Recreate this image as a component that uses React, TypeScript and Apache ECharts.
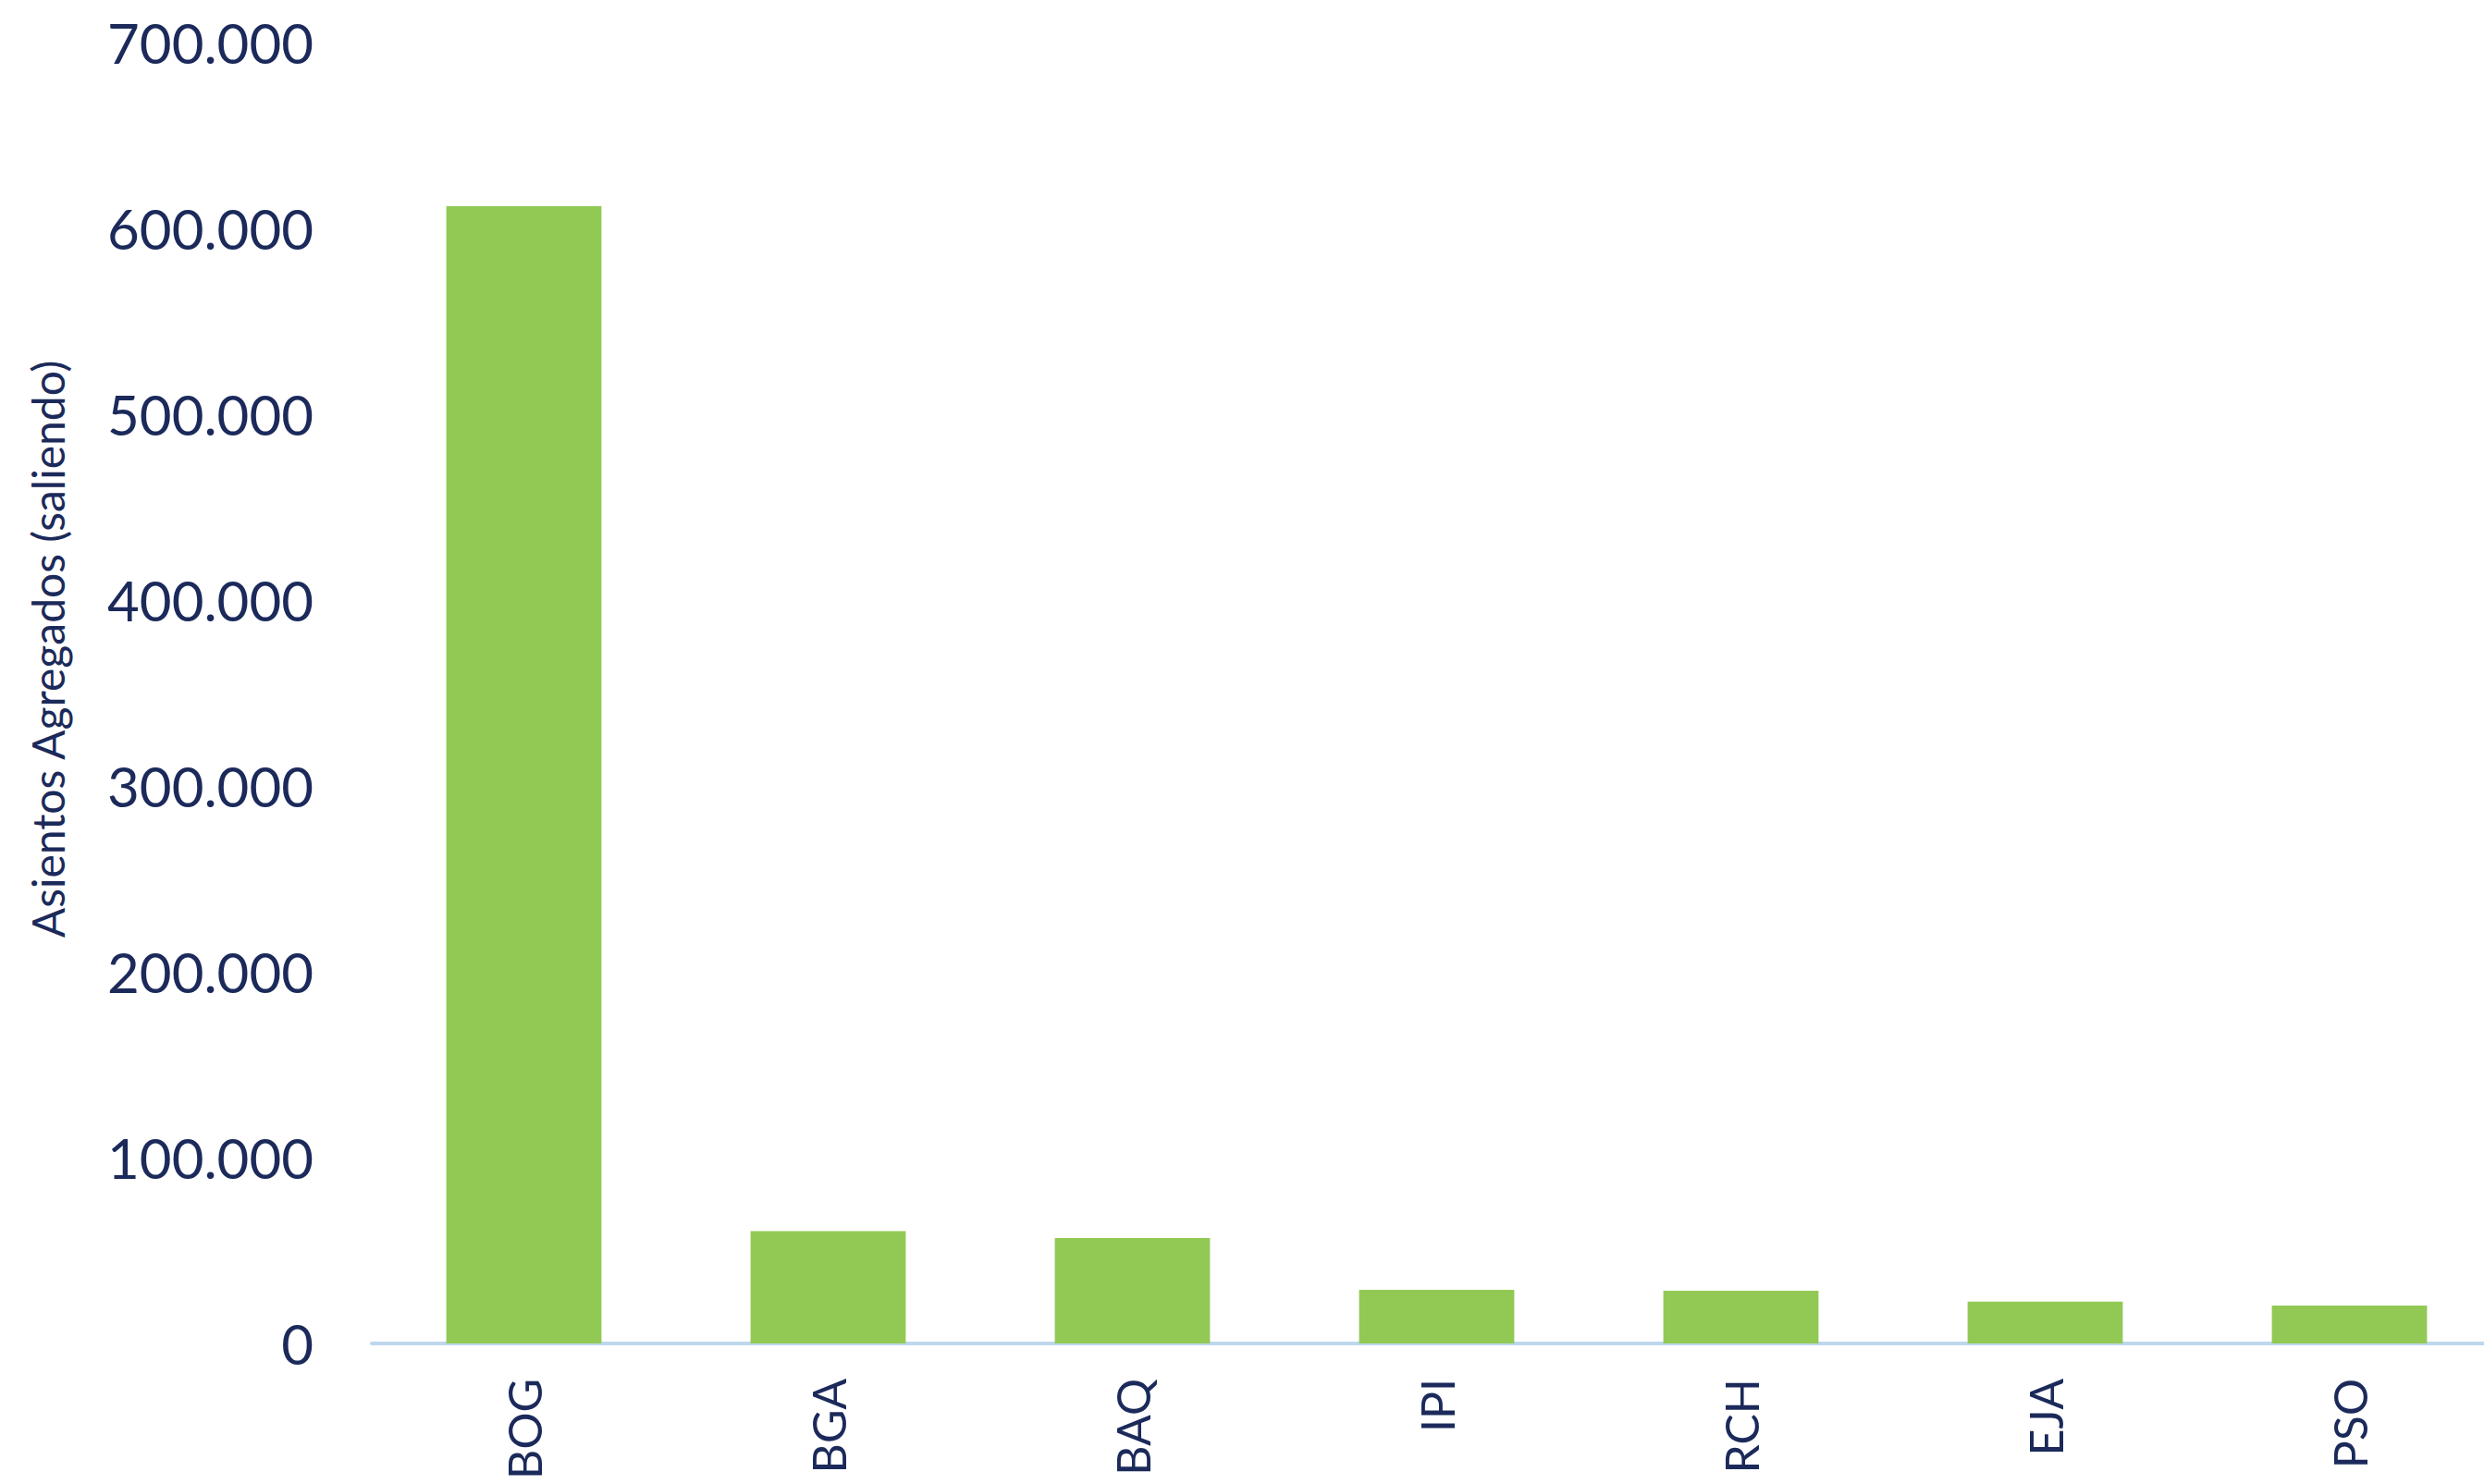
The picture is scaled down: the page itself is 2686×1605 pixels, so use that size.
import React, { useEffect, useRef } from "react";
import * as echarts from "echarts";

const categories = ["BOG", "BGA", "BAQ", "IPI", "RCH", "EJA", "PSO"];
const seats = [612000, 60500, 56700, 28900, 28400, 22500, 20400];
const yTicks = [0, 100000, 200000, 300000, 400000, 500000, 600000, 700000];
const yTitle = "Asientos Agregados (saliendo)";

const TEXT = "#1B2A5A";
const FONT = "Lato, 'Open Sans', sans-serif";

function fmt(v: number): string {
  return String(Math.round(v)).replace(/\B(?=(\d{3})+(?!\d))/g, ".");
}

export default function App() {
  const ref = useRef<HTMLDivElement>(null);
  useEffect(() => {
    if (!ref.current) return;
    const chart = echarts.init(ref.current, null, { renderer: "svg" });
    chart.setOption({
      animation: false,
      backgroundColor: "#ffffff",
      grid: {
        left: 402,
        right: -19,
        top: 46,
        bottom: 152,
        containLabel: false,
        outerBoundsMode: "none",
      },
      xAxis: {
        type: "category",
        data: categories,
        axisLine: { show: true, lineStyle: { color: "#BDD7EE", width: 4 } },
        axisTick: { show: false },
        axisLabel: {
          rotate: 90,
          margin: 38,
          color: TEXT,
          fontFamily: FONT,
          fontSize: 50,
        },
      },
      yAxis: {
        type: "value",
        min: yTicks[0],
        max: yTicks[yTicks.length - 1],
        interval: 100000,
        splitLine: { show: false },
        axisLine: { show: false },
        axisTick: { show: false },
        axisLabel: {
          margin: 63,
          color: TEXT,
          fontFamily: FONT,
          fontSize: 60,
          formatter: (v: number) => fmt(v),
        },
      },
      graphic: [
        {
          type: "text",
          x: 51,
          y: 702,
          rotation: Math.PI / 2,
          style: {
            text: yTitle,
            fill: TEXT,
            font: `48px ${FONT}`,
            align: "center",
            verticalAlign: "middle",
          },
        },
      ],
      series: [
        {
          type: "bar",
          data: seats,
          barCategoryGap: "49%",
          itemStyle: { color: "#92C955" },
          z: 1,
        },
      ],
    });
    return () => chart.dispose();
  }, []);
  return (
    <div
      ref={ref}
      style={{ position: "absolute", left: 0, top: 0, width: 2686, height: 1605 }}
    />
  );
}
